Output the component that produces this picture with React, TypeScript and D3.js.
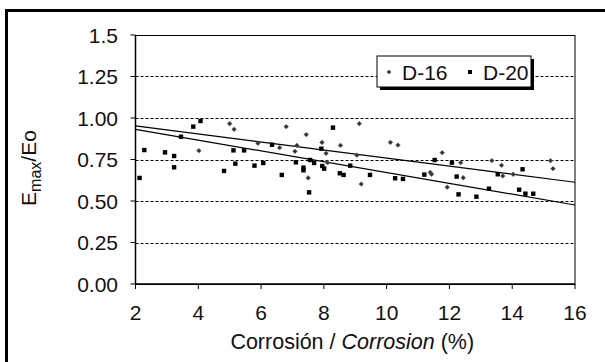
import React from "react";
import * as d3 from "d3";

const yTicks = [0, 0.25, 0.5, 0.75, 1.0, 1.25, 1.5];
const yTickLabels = ["0.00", "0.25", "0.50", "0.75", "1.00", "1.25", "1.5"];
const xTicks = [2, 4, 6, 8, 10, 12, 14, 16];
const gridValues = [0.25, 0.5, 0.75, 1.0, 1.25];

// D-16 (diamonds): [corrosion %, Emax/Eo]
const d16X = [4.02, 5.0, 5.14, 5.9, 6.59, 6.8, 7.44, 7.14, 7.08, 7.94, 8.07, 8.53, 8.12, 7.5, 9.13, 10.12, 10.36, 9.05, 11.77, 12.36, 9.19, 11.39, 11.43, 11.93, 12.44, 13.35, 13.66, 13.7, 14.03, 15.22, 15.3];
const d16Y = [0.803, 0.966, 0.932, 0.848, 0.821, 0.948, 0.9, 0.835, 0.799, 0.853, 0.787, 0.835, 0.731, 0.639, 0.966, 0.853, 0.837, 0.776, 0.791, 0.731, 0.602, 0.673, 0.661, 0.583, 0.64, 0.743, 0.715, 0.651, 0.661, 0.743, 0.695];

// D-20 (squares)
const d20X = [2.28, 2.94, 3.23, 3.23, 2.13, 3.45, 3.84, 4.07, 5.12, 5.46, 5.18, 4.82, 8.29, 6.35, 7.92, 5.79, 6.07, 7.11, 7.35, 7.35, 7.56, 7.69, 7.95, 8.01, 6.66, 7.53, 8.51, 8.63, 8.84, 11.53, 12.08, 9.47, 10.27, 10.52, 11.2, 12.23, 12.29, 13.54, 14.33, 12.86, 13.26, 14.22, 14.42, 14.67];
const d20Y = [0.807, 0.793, 0.771, 0.703, 0.639, 0.887, 0.948, 0.982, 0.805, 0.805, 0.725, 0.681, 0.942, 0.839, 0.815, 0.713, 0.729, 0.733, 0.701, 0.685, 0.747, 0.729, 0.711, 0.695, 0.657, 0.552, 0.667, 0.657, 0.713, 0.747, 0.731, 0.657, 0.637, 0.633, 0.659, 0.647, 0.54, 0.661, 0.691, 0.526, 0.574, 0.568, 0.544, 0.544];

// trend lines (endpoints at x = 2 and x = 16)
const trendX = [2, 16];
const trend16Y = [0.952, 0.613];
const trend20Y = [0.932, 0.476];

const FONT = "'Liberation Sans', Arial, sans-serif";

export default function App() {
  const x = d3.scaleLinear().domain([2, 16]).range([135.5, 575]);
  const y = d3.scaleLinear().domain([0, 1.5]).range([284, 35]);
  const line = d3
    .line<[number, number]>()
    .x((d) => x(d[0]))
    .y((d) => y(d[1]));
  const t16 = trendX.map((v, i) => [v, trend16Y[i]] as [number, number]);
  const t20 = trendX.map((v, i) => [v, trend20Y[i]] as [number, number]);
  const diamond = (cx: number, cy: number, r: number) =>
    `M${cx},${cy - r}L${cx + r},${cy}L${cx},${cy + r}L${cx - r},${cy}Z`;

  return (
    <svg
      width={605}
      height={362}
      style={{ position: "absolute", left: 0, top: 0, background: "#fff" }}
      fontFamily={FONT}
    >
      <rect x={0} y={0} width={605} height={362} fill="#fff" />
      {/* outer frame */}
      <rect x={6.5} y={10.5} width={800} height={800} fill="none" stroke="#000" strokeWidth={3} />

      {/* grid */}
      {gridValues.map((g) => (
        <line
          key={g}
          x1={x(2)}
          x2={x(16)}
          y1={Math.round(y(g)) + 0.5}
          y2={Math.round(y(g)) + 0.5}
          stroke="#000"
          strokeWidth={1}
          strokeDasharray="3,2"
        />
      ))}

      {/* plot frame */}
      <rect
        x={x(2)}
        y={y(1.5) + 0.5}
        width={x(16) - x(2)}
        height={y(0) - y(1.5)}
        fill="none"
        stroke="#000"
        strokeWidth={1}
      />
      <line x1={x(2)} x2={x(2)} y1={y(1.5)} y2={y(0)} stroke="#000" strokeWidth={1.5} />
      <line x1={x(2)} x2={x(16)} y1={y(0)} y2={y(0)} stroke="#000" strokeWidth={1.5} />

      {/* y ticks */}
      {yTicks.map((t, i) => (
        <g key={t}>
          <line x1={x(2) - 5} x2={x(2)} y1={y(t)} y2={y(t)} stroke="#000" strokeWidth={1} />
          <text x={118} y={y(t)} dy="0.36em" textAnchor="end" fontSize={21} fill="#111">
            {yTickLabels[i]}
          </text>
        </g>
      ))}

      {/* x ticks */}
      {xTicks.map((t) => (
        <g key={t}>
          <line x1={x(t)} x2={x(t)} y1={y(0)} y2={y(0) + 5} stroke="#000" strokeWidth={1} />
          <text x={x(t)} y={320} textAnchor="middle" fontSize={21} fill="#111">
            {t}
          </text>
        </g>
      ))}

      {/* axis titles */}
      <text x={(x(2) + x(16)) / 2 - 3} y={349} textAnchor="middle" fontSize={21.5} fill="#111">
        Corrosión / <tspan fontStyle="italic">Corrosion</tspan> (%)
      </text>
      <text
        transform={`translate(36, 168) rotate(-90)`}
        textAnchor="middle"
        fontSize={21}
        fill="#111"
      >
        E<tspan fontSize={16} dy={5}>max</tspan>
        <tspan dy={-5}>/Eo</tspan>
      </text>

      {/* trend lines */}
      <path d={line(t16) || ""} fill="none" stroke="#000" strokeWidth={1.2} />
      <path d={line(t20) || ""} fill="none" stroke="#000" strokeWidth={1.2} />

      {/* D-16 points */}
      {d16X.map((v, i) => (
        <path key={"a" + i} d={diamond(x(v), y(d16Y[i]), 2.4)} fill="#333" stroke="#777" strokeWidth={0.5} />
      ))}
      {/* D-20 points */}
      {d20X.map((v, i) => (
        <rect key={"b" + i} x={x(v) - 2.2} y={y(d20Y[i]) - 2.2} width={4.4} height={4.4} fill="#000" />
      ))}

      {/* legend */}
      <rect x={380} y={59} width={154} height={31} fill="#000" />
      <rect x={377} y={56} width={154} height={31} fill="#fff" stroke="#000" strokeWidth={1} />
      <path d={diamond(389, 72, 2.2)} fill="#333" />
      <text x={402} y={79.5} fontSize={21} fill="#111">D-16</text>
      <rect x={468} y={70} width={4} height={4} fill="#000" />
      <text x={483} y={79.5} fontSize={21} fill="#111">D-20</text>
    </svg>
  );
}
